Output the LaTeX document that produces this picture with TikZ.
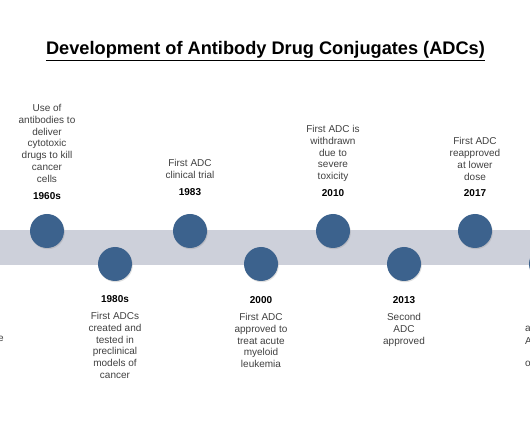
\documentclass[tikz,border=0pt]{standalone}
\usepackage{fontspec}
\setmainfont{Liberation Sans}
\usetikzlibrary{shadows}
\definecolor{bandgrey}{RGB}{205,208,218}
\definecolor{dotblue}{RGB}{60,98,141}
\definecolor{txtgrey}{RGB}{64,64,64}
\tikzset{
  dot/.style={circle,fill=dotblue,minimum size=34pt,inner sep=0pt,
    drop shadow={opacity=0.25,shadow xshift=0.8pt,shadow yshift=-1.2pt}},
  desc/.style={align=center,inner sep=0pt,text=txtgrey,anchor=north,
    font=\fontsize{10}{11.8}\selectfont},
  yearlbl/.style={inner sep=0pt,font=\fontsize{10}{12}\selectfont\bfseries},
  frag/.style={inner sep=0pt,text=txtgrey,font=\fontsize{10}{11.8}\selectfont}
}
\begin{document}
\begin{tikzpicture}[x=1pt,y=-1pt]
\useasboundingbox (0,0) rectangle (530,443);
\clip (0,0) rectangle (530,443);
% title
\node[inner sep=0pt,font=\fontsize{18.2}{22}\selectfont\bfseries] (title) at (265.5,50) {Development of Antibody Drug Conjugates (ADCs)};
\draw[line width=1.1pt] ([yshift=-1.5pt]title.south west) -- ([yshift=-1.5pt]title.south east);
% band
\fill[bandgrey] (0,230) rectangle (530,265);
% dots
\node[dot] (d1) at (47,231) {};
\node[dot] (d2) at (115,264) {};
\node[dot] (d3) at (190,231) {};
\node[dot] (d4) at (261,264) {};
\node[dot] (d5) at (333,231) {};
\node[dot] (d6) at (404,264) {};
\node[dot] (d7) at (475,231) {};
\node[dot] (d8) at (546,264) {};
% upper labels
\node[desc] (t1) at (47,104) {Use of\\antibodies to\\deliver\\cytotoxic\\drugs to kill\\cancer\\cells};
\node[yearlbl] (y1) at (47,196) {1960s};
\node[desc] (t3) at (190,159) {First ADC\\clinical trial};
\node[yearlbl] (y3) at (190,192) {1983};
\node[desc] (t5) at (333,125) {First ADC is\\withdrawn\\due to\\severe\\toxicity};
\node[yearlbl] (y5) at (333,193) {2010};
\node[desc] (t7) at (475,137.5) {First ADC\\reapproved\\at lower\\dose};
\node[yearlbl] (y7) at (475,193) {2017};
% lower labels
\node[yearlbl] (y2) at (115,299) {1980s};
\node[desc] (t2) at (115,312) {First ADCs\\created and\\tested in\\preclinical\\models of\\cancer};
\node[yearlbl] (y4) at (261,300.5) {2000};
\node[desc] (t4) at (261,313) {First ADC\\approved to\\treat acute\\myeloid\\leukemia};
\node[yearlbl] (y6) at (404,300.5) {2013};
\node[desc] (t6) at (404,313) {Second\\ADC\\approved};
% edge fragments
\node[frag,anchor=east] (f1) at (4,339) {e};
\node[frag,anchor=west] (f2) at (525,329) {a};
\node[frag,anchor=west] (f3) at (525,341) {A};
\node[frag,anchor=west] (f4) at (525,364) {o};
\end{tikzpicture}
\end{document}
